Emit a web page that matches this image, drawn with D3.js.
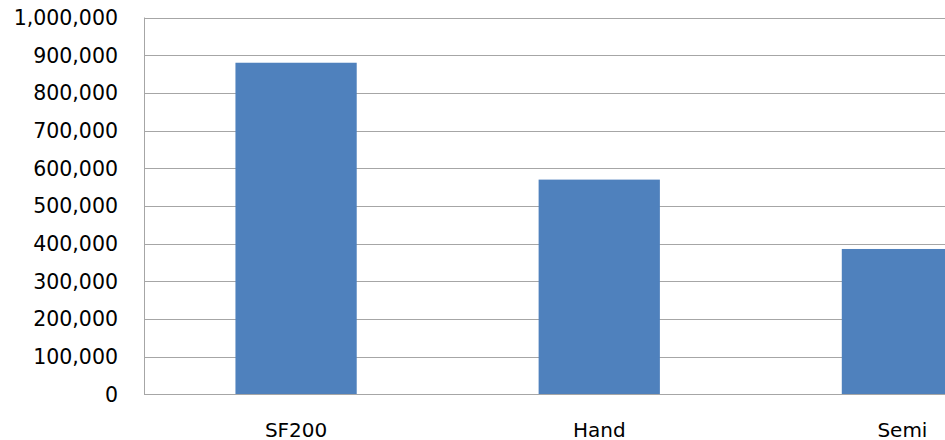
<!DOCTYPE html>
<html>
<head>
<meta charset="utf-8">
<script src="https://cdn.jsdelivr.net/npm/d3@7"></script>
<style>
  html, body { margin: 0; padding: 0; background: #fff; }
  svg { display: block; }
  text { font-family: "DejaVu Sans", sans-serif; fill: #000; }
</style>
</head>
<body>
<script>
const categories = ["SF200", "Hand", "Semi"];
const values = [880000, 570000, 386000];
const yTicks = [0, 100000, 200000, 300000, 400000, 500000, 600000, 700000, 800000, 900000, 1000000];

const W = 945, H = 440;
const plot = { left: 144.5, top: 17.5, bottom: 394.5, right: 1054 };

const svg = d3.select("body").append("svg").attr("width", W).attr("height", H);

const x = d3.scaleBand().domain(categories).range([plot.left, plot.right])
  .paddingInner(0.6).paddingOuter(0.3);
const y = d3.scaleLinear().domain([0, 1000000]).range([plot.bottom, plot.top]);

const fmt = d3.format(",");

// gridlines
svg.append("g").selectAll("line").data(yTicks.filter(d => d > 0)).join("line")
  .attr("x1", plot.left).attr("x2", plot.right)
  .attr("y1", d => Math.round(y(d)) + 0.5).attr("y2", d => Math.round(y(d)) + 0.5)
  .attr("stroke", "#a6a6a6").attr("stroke-width", 1);

// bars
svg.append("g").selectAll("rect").data(categories).join("rect")
  .attr("x", d => x(d)).attr("width", x.bandwidth())
  .attr("y", (d, i) => y(values[i])).attr("height", (d, i) => y(0) - y(values[i]))
  .attr("fill", "#4f81bd");

// axes lines
svg.append("line").attr("x1", plot.left).attr("x2", plot.left)
  .attr("y1", plot.top).attr("y2", plot.bottom + 0.5)
  .attr("stroke", "#a6a6a6").attr("stroke-width", 1);
svg.append("line").attr("x1", plot.left).attr("x2", plot.right)
  .attr("y1", plot.bottom).attr("y2", plot.bottom)
  .attr("stroke", "#a6a6a6").attr("stroke-width", 1);

// y labels
svg.append("g").selectAll("text").data(yTicks).join("text")
  .attr("x", 118).attr("y", d => y(d)).attr("dy", "0.36em")
  .attr("text-anchor", "end").attr("font-size", 20.5)
  .text(d => fmt(d));

// x labels
svg.append("g").selectAll("text").data(categories).join("text")
  .attr("x", d => x(d) + x.bandwidth() / 2).attr("y", 436.5)
  .attr("text-anchor", "middle").attr("font-size", 20)
  .text(d => d);
</script>
</body>
</html>
